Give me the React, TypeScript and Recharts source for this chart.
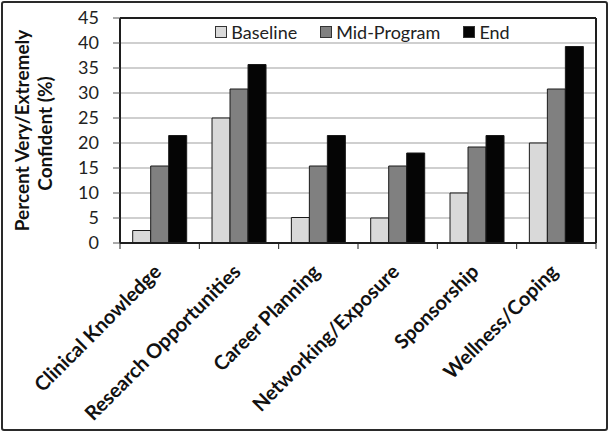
import React from "react";
import {
  BarChart,
  Bar,
  XAxis,
  YAxis,
  CartesianGrid,
  ReferenceLine,
} from "recharts";

const CATEGORIES = [
  "Clinical Knowledge",
  "Research Opportunities",
  "Career Planning",
  "Networking/Exposure",
  "Sponsorship",
  "Wellness/Coping",
];
const BASELINE = [2.5, 25, 5.1, 5, 10, 20];
const MID_PROGRAM = [15.4, 30.8, 15.4, 15.4, 19.2, 30.8];
const END = [21.5, 35.7, 21.5, 18, 21.5, 39.3];
const Y_TICKS = [0, 5, 10, 15, 20, 25, 30, 35, 40, 45];

const SERIES = [
  { key: "baseline", name: "Baseline", color: "#d9d9d9" },
  { key: "mid", name: "Mid-Program", color: "#808080" },
  { key: "end", name: "End", color: "#050505" },
];

const data = CATEGORIES.map((name, i) => ({
  name,
  baseline: BASELINE[i],
  mid: MID_PROGRAM[i],
  end: END[i],
}));

const FONT = "Lato, 'Open Sans', sans-serif";
const INK = "#1e1e1e";

const XTick = (props: any) => {
  const { x, y, payload, index } = props;
  const half = payload?.offset ?? 39.7;
  const last = index === CATEGORIES.length - 1;
  const ax = x + 3;
  const ay = y + 30;
  return (
    <g>
      <line x1={x - half} x2={x - half} y1={y} y2={y + 6} stroke={INK} strokeWidth={1} />
      {last && <line x1={x + half} x2={x + half} y1={y} y2={y + 6} stroke={INK} strokeWidth={1} />}
      <text
        x={ax}
        y={ay}
        textAnchor="end"
        transform={`rotate(-45, ${ax}, ${ay})`}
        fontFamily={FONT}
        fontWeight={700}
        fontSize={20}
        fill="#111"
      >
        {payload.value}
      </text>
    </g>
  );
};

const YLabel = (props: any) => {
  const vb = props.viewBox || { x: 0, y: 18, height: 225 };
  const cy = vb.y + vb.height / 2;
  const x1 = 29;
  const x2 = 52;
  return (
    <g fontFamily={FONT} fontWeight={700} fontSize={19} fill="#111" textAnchor="middle">
      <text x={x1} y={cy} transform={`rotate(-90, ${x1}, ${cy})`}>
        Percent Very/Extremely
      </text>
      <text x={x2} y={cy + 3} transform={`rotate(-90, ${x2}, ${cy + 3})`}>
        Confident (%)
      </text>
    </g>
  );
};

const LegendBox = () => (
  <div
    style={{
      position: "absolute",
      left: 120,
      top: 22,
      width: 476,
      display: "flex",
      justifyContent: "center",
      gap: 23,
      paddingLeft: 9,
      boxSizing: "border-box",
      fontFamily: FONT,
      fontSize: 18,
      color: "#222",
      lineHeight: "20px",
    }}
  >
    {SERIES.map((s) => (
      <div key={s.key} style={{ display: "flex", alignItems: "center" }}>
        <span
          style={{
            display: "inline-block",
            width: 10,
            height: 10,
            background: s.color,
            border: "1px solid #333",
            marginRight: 4,
          }}
        />
        <span>{s.name}</span>
      </div>
    ))}
  </div>
);

export default function App() {
  return (
    <div style={{ position: "absolute", left: 0, top: 0, width: 609, height: 432, background: "#fff" }}>
      <BarChart
        width={609}
        height={432}
        data={data}
        margin={{ top: 18, right: 0, bottom: 0, left: 0 }}
        barCategoryGap="16%"
        barGap={0}
      >
        <CartesianGrid vertical={false} stroke="#a0a0a0" strokeWidth={1.2} />
        <XAxis
          dataKey="name"
          height={189}
          interval={0}
          tickLine={false}
          tickSize={0}
          tickMargin={0}
          axisLine={{ stroke: INK, strokeWidth: 2 }}
          tick={<XTick />}
        />
        <YAxis
          width={120}
          domain={[0, 45]}
          ticks={Y_TICKS}
          interval={0}
          tickLine={{ stroke: "#555", strokeWidth: 1 }}
          tickSize={7}
          tickMargin={14}
          axisLine={{ stroke: INK, strokeWidth: 2 }}
          tick={{ fill: "#222", fontSize: 18, fontFamily: FONT }}
          label={<YLabel />}
        />
        <YAxis
          yAxisId="right"
          orientation="right"
          width={13}
          domain={[0, 45]}
          tick={false}
          tickLine={false}
          axisLine={{ stroke: INK, strokeWidth: 2 }}
        />
        <ReferenceLine y={45} stroke={INK} strokeWidth={2} />
        {SERIES.map((s) => (
          <Bar
            key={s.key}
            dataKey={s.key}
            name={s.name}
            fill={s.color}
            stroke="#1a1a1a"
            strokeWidth={1}
            isAnimationActive={false}
          />
        ))}
      </BarChart>
      <LegendBox />
      <div
        style={{
          position: "absolute",
          left: 1,
          top: 1,
          width: 603,
          height: 426,
          border: "2px solid #2a2a2a",
          borderRadius: 3,
          pointerEvents: "none",
        }}
      />
    </div>
  );
}
